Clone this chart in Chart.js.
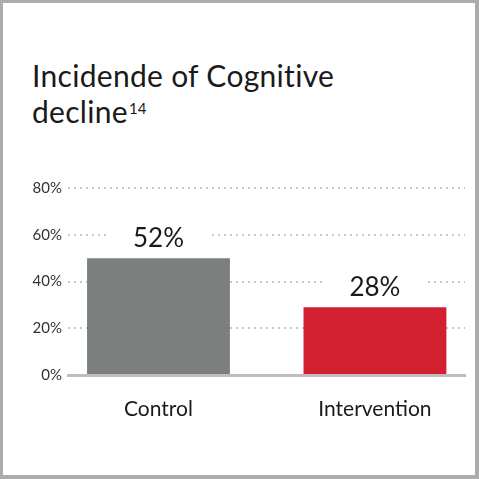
<!DOCTYPE html>
<html>
<head>
<meta charset="utf-8">
<script src="https://cdn.jsdelivr.net/npm/chart.js@4.4.1/dist/chart.umd.min.js"></script>
<style>
  html, body { margin: 0; padding: 0; background: #fff; }
  #frame {
    position: relative; width: 479px; height: 479px; box-sizing: border-box;
    border-style: solid; border-color: #acacac; border-width: 3px 4px 4px 3px;
    overflow: hidden;
  }
  #title {
    position: absolute; left: 29px; top: 54px;
    font-family: Lato, sans-serif; font-size: 30px; line-height: 36px;
    letter-spacing: 0.3px; color: #1a1a1a; white-space: nowrap;
  }
  #title .sup { position: relative; top: -9px; font-size: 15px; margin-left: 1px; letter-spacing: 0; }
  #wrap { position: absolute; left: -3px; top: -3px; width: 479px; height: 479px; }
</style>
</head>
<body>
<div id="frame">
  <div id="title">Incidende of Cognitive<br>decline<span class="sup">14</span></div>
  <div id="wrap"><canvas id="chart" width="479" height="479"></canvas></div>
</div>
<script>
const categories = ["Control", "Intervention"];
const values = [50, 29];
const valueLabels = ["52%", "28%"];
const yTicks = [0, 20, 40, 60, 80];

const barColors = ["#7b7f7e", "#d32030"];

const valueLabelPlugin = {
  id: "valueLabels",
  afterDatasetsDraw(chart) {
    const ctx = chart.ctx;
    const meta = chart.getDatasetMeta(0);
    ctx.save();
    ctx.font = "26px Lato";
    ctx.textAlign = "center";
    ctx.textBaseline = "alphabetic";
    meta.data.forEach((bar, i) => {
      const base = bar.y - 11;
      ctx.fillStyle = "#fff";
      ctx.fillRect(bar.x - 52, base - 25, 104, 30);
      ctx.fillStyle = "#1a1a1a";
      ctx.fillText(valueLabels[i], bar.x, base);
    });
    ctx.restore();
  }
};

new Chart(document.getElementById("chart"), {
  type: "bar",
  data: {
    datasets: [{
      data: categories.map((c, i) => ({ x: i, y: values[i] })),
      backgroundColor: barColors,
      barPercentage: 0.66,
      categoryPercentage: 1
    }]
  },
  options: {
    responsive: false,
    animation: false,
    layout: { padding: { top: 188, right: 14, left: 0, bottom: 0 } },
    plugins: { legend: { display: false }, tooltip: { enabled: false } },
    scales: {
      x: {
        type: "linear",
        offset: false,
        min: -0.418,
        max: 1.416,
        afterBuildTicks: s => { s.ticks = categories.map((c, i) => ({ value: i })); },
        afterFit: s => { s.height = 104; },
        grid: { display: false, offset: false },
        border: { display: true, color: "#bdbdc1", width: 3 },
        ticks: {
          callback: v => categories[v],
          color: "#1a1a1a",
          font: { family: "Lato", size: 21 },
          padding: 14,
          maxRotation: 0,
          autoSkip: false
        }
      },
      y: {
        min: 0,
        max: 80,
        afterBuildTicks: s => { s.ticks = yTicks.map(v => ({ value: v })); },
        afterFit: s => { s.width = 68; },
        grid: { color: "#c8c8c8", lineWidth: 2, drawTicks: false },
        border: { display: false, dash: [2, 4] },
        ticks: {
          callback: v => v + "%",
          color: "#333",
          font: { family: "Lato", size: 15 },
          padding: 6
        }
      }
    }
  },
  plugins: [valueLabelPlugin]
});
</script>
</body>
</html>
